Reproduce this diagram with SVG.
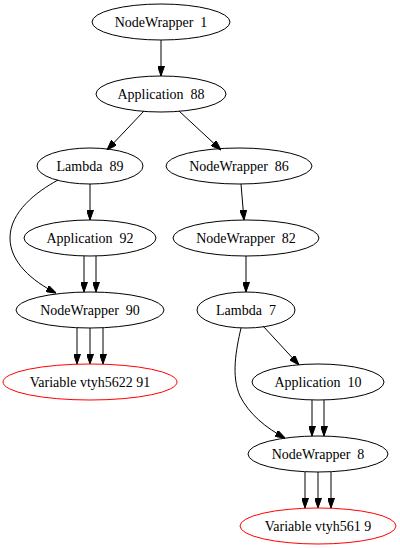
<svg xmlns="http://www.w3.org/2000/svg" width="400" height="548" viewBox="0 0 400 548">
<style>
.n ellipse{fill:none;stroke:#000;stroke-width:1}
.n.red ellipse{stroke:#ff0000}
.n text{font-family:"Liberation Serif","Times New Roman",serif;font-size:14px;fill:#000;text-anchor:middle;white-space:pre}
#edges path{fill:none;stroke:#000;stroke-width:1;marker-end:url(#arr)}
</style>
<defs>
<marker id="arr" markerUnits="userSpaceOnUse" markerWidth="10" markerHeight="7" refX="10" refY="3.5" orient="auto">
<path d="M0,0 L10,3.5 L0,7 z" fill="#000" stroke="#000" stroke-width="1"/>
</marker>
</defs>
<rect width="400" height="548" fill="#fff"/>
<g id="edges">
<path d="M161,40 L161,76"/>
<path d="M144,111 L107,150"/>
<path d="M179,111 L221,150"/>
<path d="M90,184 L90,220"/>
<path d="M58,180 C36,192 10,212 10,238 C10,262 32,281 56,293"/>
<path d="M84,256 L84,292"/>
<path d="M96,256 L96,292"/>
<path d="M77,328 L77,364"/>
<path d="M90,328 L90,364"/>
<path d="M103,328 L103,364"/>
<path d="M241,184 L244,220"/>
<path d="M246,256 L246,292"/>
<path d="M263,326 L299,365"/>
<path d="M241,328 C236,350 231,376 240,396 C249,414 266,428 285,438"/>
<path d="M312,400 L312,436"/>
<path d="M324,400 L324,436"/>
<path d="M305,472 L305,508"/>
<path d="M318,472 L318,508"/>
<path d="M331,472 L331,508"/>
</g>
<g id="nw1" class="n"><ellipse cx="161" cy="22" rx="69" ry="18"/><text x="161" y="27">NodeWrapper  1</text></g>
<g id="app88" class="n"><ellipse cx="161" cy="94" rx="65" ry="18"/><text x="161" y="99">Application  88</text></g>
<g id="lam89" class="n"><ellipse cx="90" cy="166" rx="53" ry="18"/><text x="90" y="171">Lambda  89</text></g>
<g id="nw86" class="n"><ellipse cx="239" cy="166" rx="73" ry="18"/><text x="239" y="171">NodeWrapper  86</text></g>
<g id="app92" class="n"><ellipse cx="90" cy="238" rx="66" ry="18"/><text x="90" y="243">Application  92</text></g>
<g id="nw82" class="n"><ellipse cx="246" cy="238" rx="73" ry="18"/><text x="246" y="243">NodeWrapper  82</text></g>
<g id="nw90" class="n"><ellipse cx="90" cy="310" rx="74" ry="18"/><text x="90" y="315">NodeWrapper  90</text></g>
<g id="lam7" class="n"><ellipse cx="246" cy="310" rx="49" ry="18"/><text x="246" y="315">Lambda  7</text></g>
<g id="var91" class="n red"><ellipse cx="90" cy="382" rx="87" ry="18"/><text x="90" y="387">Variable vtyh5622 91</text></g>
<g id="app10" class="n"><ellipse cx="318" cy="382" rx="66" ry="18"/><text x="318" y="387">Application  10</text></g>
<g id="nw8" class="n"><ellipse cx="318" cy="454" rx="70" ry="18"/><text x="318" y="459">NodeWrapper  8</text></g>
<g id="var9" class="n red"><ellipse cx="318" cy="526" rx="78" ry="18"/><text x="318" y="531">Variable vtyh561 9</text></g>
</svg>
